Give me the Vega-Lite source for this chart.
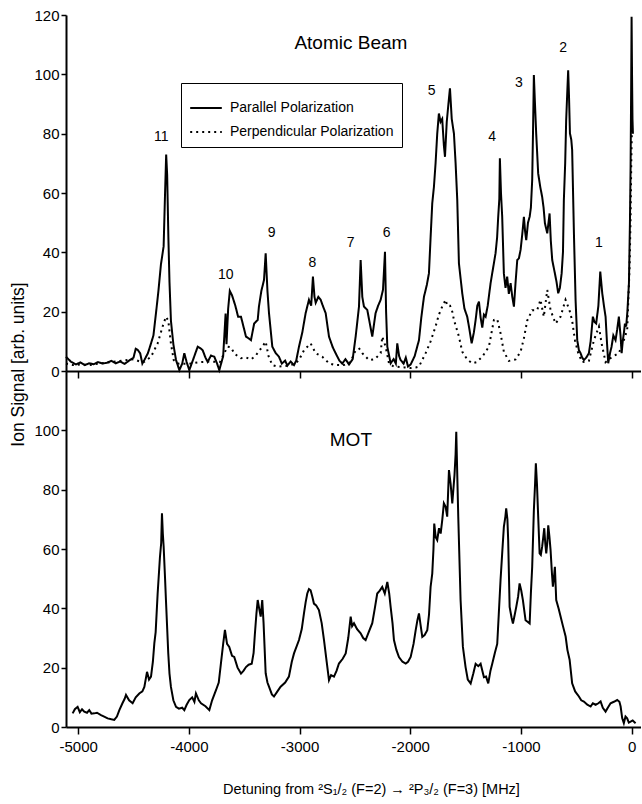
{
"$schema": "https://vega.github.io/schema/vega-lite/v6.json",
"background": "white",
"padding": {"left": 9, "top": 8, "right": 0, "bottom": 5},
"spacing": 0,
"bounds": "flush",
"config": {
  "view": {"stroke": null},
  "font": "Liberation Sans",
  "axis": {"grid": false, "domainColor": "black", "domainWidth": 2, "tickColor": "black", "tickWidth": 1.5, "labelColor": "black", "labelFont": "Liberation Sans", "labelFontSize": 15, "titleFont": "Liberation Sans", "titleFontSize": 16, "titleFontWeight": "normal", "titleColor": "black"}
},
"datasets": {
"beam": [
{"x":-5110,"y":4.8,"pol":"Parallel Polarization"},{"x":-5065,"y":3.1,"pol":"Parallel Polarization"},{"x":-5020,"y":2.2,"pol":"Parallel Polarization"},{"x":-4980,"y":2.9,"pol":"Parallel Polarization"},{"x":-4940,"y":2.0,"pol":"Parallel Polarization"},{"x":-4900,"y":2.6,"pol":"Parallel Polarization"},{"x":-4860,"y":2.3,"pol":"Parallel Polarization"},{"x":-4820,"y":3.0,"pol":"Parallel Polarization"},{"x":-4780,"y":2.5,"pol":"Parallel Polarization"},{"x":-4740,"y":2.8,"pol":"Parallel Polarization"},{"x":-4700,"y":3.4,"pol":"Parallel Polarization"},{"x":-4660,"y":2.6,"pol":"Parallel Polarization"},{"x":-4620,"y":3.2,"pol":"Parallel Polarization"},{"x":-4580,"y":2.4,"pol":"Parallel Polarization"},{"x":-4540,"y":3.5,"pol":"Parallel Polarization"},{"x":-4500,"y":4.5,"pol":"Parallel Polarization"},{"x":-4480,"y":7.5,"pol":"Parallel Polarization"},{"x":-4462,"y":7.1,"pol":"Parallel Polarization"},{"x":-4440,"y":6.0,"pol":"Parallel Polarization"},{"x":-4420,"y":2.5,"pol":"Parallel Polarization"},{"x":-4402,"y":3.7,"pol":"Parallel Polarization"},{"x":-4370,"y":6.0,"pol":"Parallel Polarization"},{"x":-4342,"y":9.3,"pol":"Parallel Polarization"},{"x":-4320,"y":12.0,"pol":"Parallel Polarization"},{"x":-4297,"y":19.5,"pol":"Parallel Polarization"},{"x":-4275,"y":27,"pol":"Parallel Polarization"},{"x":-4252,"y":36,"pol":"Parallel Polarization"},{"x":-4228,"y":42,"pol":"Parallel Polarization"},{"x":-4215,"y":60,"pol":"Parallel Polarization"},{"x":-4205,"y":73,"pol":"Parallel Polarization"},{"x":-4196,"y":66,"pol":"Parallel Polarization"},{"x":-4185,"y":45,"pol":"Parallel Polarization"},{"x":-4175,"y":30,"pol":"Parallel Polarization"},{"x":-4162,"y":17,"pol":"Parallel Polarization"},{"x":-4140,"y":9,"pol":"Parallel Polarization"},{"x":-4116,"y":3.7,"pol":"Parallel Polarization"},{"x":-4086,"y":0.3,"pol":"Parallel Polarization"},{"x":-4060,"y":2.5,"pol":"Parallel Polarization"},{"x":-4041,"y":6,"pol":"Parallel Polarization"},{"x":-4020,"y":3,"pol":"Parallel Polarization"},{"x":-3996,"y":0.3,"pol":"Parallel Polarization"},{"x":-3960,"y":4,"pol":"Parallel Polarization"},{"x":-3920,"y":8.2,"pol":"Parallel Polarization"},{"x":-3890,"y":7.5,"pol":"Parallel Polarization"},{"x":-3875,"y":7,"pol":"Parallel Polarization"},{"x":-3850,"y":4.5,"pol":"Parallel Polarization"},{"x":-3830,"y":3.1,"pol":"Parallel Polarization"},{"x":-3800,"y":5.2,"pol":"Parallel Polarization"},{"x":-3770,"y":4.8,"pol":"Parallel Polarization"},{"x":-3745,"y":2.5,"pol":"Parallel Polarization"},{"x":-3725,"y":0.3,"pol":"Parallel Polarization"},{"x":-3690,"y":5,"pol":"Parallel Polarization"},{"x":-3668,"y":19.4,"pol":"Parallel Polarization"},{"x":-3660,"y":9,"pol":"Parallel Polarization"},{"x":-3645,"y":21,"pol":"Parallel Polarization"},{"x":-3630,"y":27,"pol":"Parallel Polarization"},{"x":-3610,"y":25.5,"pol":"Parallel Polarization"},{"x":-3580,"y":22,"pol":"Parallel Polarization"},{"x":-3555,"y":18.3,"pol":"Parallel Polarization"},{"x":-3529,"y":18.3,"pol":"Parallel Polarization"},{"x":-3500,"y":14,"pol":"Parallel Polarization"},{"x":-3484,"y":11.6,"pol":"Parallel Polarization"},{"x":-3460,"y":11,"pol":"Parallel Polarization"},{"x":-3439,"y":10.4,"pol":"Parallel Polarization"},{"x":-3410,"y":16,"pol":"Parallel Polarization"},{"x":-3378,"y":17.2,"pol":"Parallel Polarization"},{"x":-3367,"y":21.7,"pol":"Parallel Polarization"},{"x":-3345,"y":27,"pol":"Parallel Polarization"},{"x":-3321,"y":30.7,"pol":"Parallel Polarization"},{"x":-3306,"y":39.7,"pol":"Parallel Polarization"},{"x":-3290,"y":27,"pol":"Parallel Polarization"},{"x":-3276,"y":19.5,"pol":"Parallel Polarization"},{"x":-3246,"y":8.2,"pol":"Parallel Polarization"},{"x":-3215,"y":6,"pol":"Parallel Polarization"},{"x":-3186,"y":4.8,"pol":"Parallel Polarization"},{"x":-3160,"y":2.5,"pol":"Parallel Polarization"},{"x":-3130,"y":3.5,"pol":"Parallel Polarization"},{"x":-3110,"y":1.8,"pol":"Parallel Polarization"},{"x":-3080,"y":3.2,"pol":"Parallel Polarization"},{"x":-3050,"y":2.0,"pol":"Parallel Polarization"},{"x":-3030,"y":3.5,"pol":"Parallel Polarization"},{"x":-3005,"y":8.2,"pol":"Parallel Polarization"},{"x":-2975,"y":13,"pol":"Parallel Polarization"},{"x":-2945,"y":19.5,"pol":"Parallel Polarization"},{"x":-2915,"y":24,"pol":"Parallel Polarization"},{"x":-2895,"y":22,"pol":"Parallel Polarization"},{"x":-2879,"y":31.8,"pol":"Parallel Polarization"},{"x":-2865,"y":25,"pol":"Parallel Polarization"},{"x":-2854,"y":23,"pol":"Parallel Polarization"},{"x":-2830,"y":25,"pol":"Parallel Polarization"},{"x":-2809,"y":24,"pol":"Parallel Polarization"},{"x":-2790,"y":22,"pol":"Parallel Polarization"},{"x":-2764,"y":19.5,"pol":"Parallel Polarization"},{"x":-2734,"y":11.6,"pol":"Parallel Polarization"},{"x":-2700,"y":8,"pol":"Parallel Polarization"},{"x":-2674,"y":6,"pol":"Parallel Polarization"},{"x":-2640,"y":3.5,"pol":"Parallel Polarization"},{"x":-2614,"y":2.5,"pol":"Parallel Polarization"},{"x":-2585,"y":4,"pol":"Parallel Polarization"},{"x":-2553,"y":2.2,"pol":"Parallel Polarization"},{"x":-2520,"y":4,"pol":"Parallel Polarization"},{"x":-2493,"y":11.6,"pol":"Parallel Polarization"},{"x":-2463,"y":21.7,"pol":"Parallel Polarization"},{"x":-2448,"y":37.4,"pol":"Parallel Polarization"},{"x":-2433,"y":25,"pol":"Parallel Polarization"},{"x":-2418,"y":21.7,"pol":"Parallel Polarization"},{"x":-2388,"y":20.6,"pol":"Parallel Polarization"},{"x":-2360,"y":15,"pol":"Parallel Polarization"},{"x":-2343,"y":11.6,"pol":"Parallel Polarization"},{"x":-2313,"y":19.5,"pol":"Parallel Polarization"},{"x":-2290,"y":22,"pol":"Parallel Polarization"},{"x":-2267,"y":24,"pol":"Parallel Polarization"},{"x":-2246,"y":27.4,"pol":"Parallel Polarization"},{"x":-2228,"y":40.2,"pol":"Parallel Polarization"},{"x":-2218,"y":20,"pol":"Parallel Polarization"},{"x":-2207,"y":8.2,"pol":"Parallel Polarization"},{"x":-2177,"y":2.6,"pol":"Parallel Polarization"},{"x":-2150,"y":4,"pol":"Parallel Polarization"},{"x":-2130,"y":2.5,"pol":"Parallel Polarization"},{"x":-2117,"y":9.3,"pol":"Parallel Polarization"},{"x":-2100,"y":5,"pol":"Parallel Polarization"},{"x":-2087,"y":3.7,"pol":"Parallel Polarization"},{"x":-2060,"y":2.5,"pol":"Parallel Polarization"},{"x":-2040,"y":4.5,"pol":"Parallel Polarization"},{"x":-2020,"y":1.5,"pol":"Parallel Polarization"},{"x":-1996,"y":2.2,"pol":"Parallel Polarization"},{"x":-1960,"y":5,"pol":"Parallel Polarization"},{"x":-1921,"y":10.4,"pol":"Parallel Polarization"},{"x":-1900,"y":18,"pol":"Parallel Polarization"},{"x":-1876,"y":25,"pol":"Parallel Polarization"},{"x":-1850,"y":29,"pol":"Parallel Polarization"},{"x":-1831,"y":32.9,"pol":"Parallel Polarization"},{"x":-1816,"y":45,"pol":"Parallel Polarization"},{"x":-1801,"y":56.5,"pol":"Parallel Polarization"},{"x":-1786,"y":62,"pol":"Parallel Polarization"},{"x":-1771,"y":70,"pol":"Parallel Polarization"},{"x":-1756,"y":80,"pol":"Parallel Polarization"},{"x":-1741,"y":86.8,"pol":"Parallel Polarization"},{"x":-1726,"y":84,"pol":"Parallel Polarization"},{"x":-1711,"y":85,"pol":"Parallel Polarization"},{"x":-1696,"y":76,"pol":"Parallel Polarization"},{"x":-1686,"y":72.2,"pol":"Parallel Polarization"},{"x":-1670,"y":84,"pol":"Parallel Polarization"},{"x":-1655,"y":90,"pol":"Parallel Polarization"},{"x":-1641,"y":95.3,"pol":"Parallel Polarization"},{"x":-1625,"y":85,"pol":"Parallel Polarization"},{"x":-1605,"y":80,"pol":"Parallel Polarization"},{"x":-1590,"y":70,"pol":"Parallel Polarization"},{"x":-1575,"y":57.6,"pol":"Parallel Polarization"},{"x":-1560,"y":36.3,"pol":"Parallel Polarization"},{"x":-1530,"y":26.2,"pol":"Parallel Polarization"},{"x":-1510,"y":21,"pol":"Parallel Polarization"},{"x":-1485,"y":18.3,"pol":"Parallel Polarization"},{"x":-1465,"y":14,"pol":"Parallel Polarization"},{"x":-1445,"y":9.3,"pol":"Parallel Polarization"},{"x":-1425,"y":13,"pol":"Parallel Polarization"},{"x":-1409,"y":17.2,"pol":"Parallel Polarization"},{"x":-1394,"y":22,"pol":"Parallel Polarization"},{"x":-1379,"y":23.4,"pol":"Parallel Polarization"},{"x":-1364,"y":18,"pol":"Parallel Polarization"},{"x":-1349,"y":14.6,"pol":"Parallel Polarization"},{"x":-1334,"y":19,"pol":"Parallel Polarization"},{"x":-1319,"y":18.3,"pol":"Parallel Polarization"},{"x":-1300,"y":22,"pol":"Parallel Polarization"},{"x":-1274,"y":29.6,"pol":"Parallel Polarization"},{"x":-1250,"y":35,"pol":"Parallel Polarization"},{"x":-1229,"y":39.7,"pol":"Parallel Polarization"},{"x":-1215,"y":45,"pol":"Parallel Polarization"},{"x":-1205,"y":52,"pol":"Parallel Polarization"},{"x":-1195,"y":58,"pol":"Parallel Polarization"},{"x":-1190,"y":71.7,"pol":"Parallel Polarization"},{"x":-1180,"y":60,"pol":"Parallel Polarization"},{"x":-1169,"y":52,"pol":"Parallel Polarization"},{"x":-1154,"y":32.9,"pol":"Parallel Polarization"},{"x":-1139,"y":28,"pol":"Parallel Polarization"},{"x":-1124,"y":31.8,"pol":"Parallel Polarization"},{"x":-1109,"y":26,"pol":"Parallel Polarization"},{"x":-1093,"y":29.6,"pol":"Parallel Polarization"},{"x":-1078,"y":25,"pol":"Parallel Polarization"},{"x":-1063,"y":21.7,"pol":"Parallel Polarization"},{"x":-1048,"y":30,"pol":"Parallel Polarization"},{"x":-1033,"y":37.4,"pol":"Parallel Polarization"},{"x":-1018,"y":38,"pol":"Parallel Polarization"},{"x":-1003,"y":40.8,"pol":"Parallel Polarization"},{"x":-988,"y":46,"pol":"Parallel Polarization"},{"x":-973,"y":52,"pol":"Parallel Polarization"},{"x":-962,"y":47,"pol":"Parallel Polarization"},{"x":-952,"y":44.1,"pol":"Parallel Polarization"},{"x":-936,"y":50,"pol":"Parallel Polarization"},{"x":-921,"y":52,"pol":"Parallel Polarization"},{"x":-910,"y":55,"pol":"Parallel Polarization"},{"x":-898,"y":64.4,"pol":"Parallel Polarization"},{"x":-890,"y":82,"pol":"Parallel Polarization"},{"x":-883,"y":99.8,"pol":"Parallel Polarization"},{"x":-875,"y":92,"pol":"Parallel Polarization"},{"x":-862,"y":80.1,"pol":"Parallel Polarization"},{"x":-844,"y":66.6,"pol":"Parallel Polarization"},{"x":-825,"y":62,"pol":"Parallel Polarization"},{"x":-808,"y":58.7,"pol":"Parallel Polarization"},{"x":-795,"y":55,"pol":"Parallel Polarization"},{"x":-783,"y":49.8,"pol":"Parallel Polarization"},{"x":-762,"y":46.4,"pol":"Parallel Polarization"},{"x":-741,"y":53.1,"pol":"Parallel Polarization"},{"x":-730,"y":44,"pol":"Parallel Polarization"},{"x":-717,"y":37.4,"pol":"Parallel Polarization"},{"x":-693,"y":32.9,"pol":"Parallel Polarization"},{"x":-678,"y":30,"pol":"Parallel Polarization"},{"x":-663,"y":26.2,"pol":"Parallel Polarization"},{"x":-648,"y":28,"pol":"Parallel Polarization"},{"x":-632,"y":32.9,"pol":"Parallel Polarization"},{"x":-620,"y":40,"pol":"Parallel Polarization"},{"x":-612,"y":57.6,"pol":"Parallel Polarization"},{"x":-600,"y":70,"pol":"Parallel Polarization"},{"x":-591,"y":84.6,"pol":"Parallel Polarization"},{"x":-580,"y":95,"pol":"Parallel Polarization"},{"x":-573,"y":101.4,"pol":"Parallel Polarization"},{"x":-565,"y":92,"pol":"Parallel Polarization"},{"x":-557,"y":80.1,"pol":"Parallel Polarization"},{"x":-545,"y":78,"pol":"Parallel Polarization"},{"x":-537,"y":74.5,"pol":"Parallel Polarization"},{"x":-521,"y":46.4,"pol":"Parallel Polarization"},{"x":-506,"y":23.9,"pol":"Parallel Polarization"},{"x":-491,"y":10.4,"pol":"Parallel Polarization"},{"x":-476,"y":7,"pol":"Parallel Polarization"},{"x":-461,"y":6,"pol":"Parallel Polarization"},{"x":-446,"y":4.5,"pol":"Parallel Polarization"},{"x":-431,"y":3.7,"pol":"Parallel Polarization"},{"x":-410,"y":4.5,"pol":"Parallel Polarization"},{"x":-386,"y":6,"pol":"Parallel Polarization"},{"x":-370,"y":10,"pol":"Parallel Polarization"},{"x":-350,"y":18.3,"pol":"Parallel Polarization"},{"x":-335,"y":16.5,"pol":"Parallel Polarization"},{"x":-320,"y":16,"pol":"Parallel Polarization"},{"x":-300,"y":22,"pol":"Parallel Polarization"},{"x":-283,"y":33.5,"pol":"Parallel Polarization"},{"x":-265,"y":26.2,"pol":"Parallel Polarization"},{"x":-250,"y":22,"pol":"Parallel Polarization"},{"x":-235,"y":18.3,"pol":"Parallel Polarization"},{"x":-223,"y":10,"pol":"Parallel Polarization"},{"x":-211,"y":2.6,"pol":"Parallel Polarization"},{"x":-195,"y":6,"pol":"Parallel Polarization"},{"x":-181,"y":8.2,"pol":"Parallel Polarization"},{"x":-165,"y":12,"pol":"Parallel Polarization"},{"x":-145,"y":10.4,"pol":"Parallel Polarization"},{"x":-130,"y":14,"pol":"Parallel Polarization"},{"x":-115,"y":18.3,"pol":"Parallel Polarization"},{"x":-100,"y":12,"pol":"Parallel Polarization"},{"x":-90,"y":6,"pol":"Parallel Polarization"},{"x":-80,"y":10,"pol":"Parallel Polarization"},{"x":-70,"y":12.7,"pol":"Parallel Polarization"},{"x":-60,"y":16,"pol":"Parallel Polarization"},{"x":-49,"y":15,"pol":"Parallel Polarization"},{"x":-38,"y":20,"pol":"Parallel Polarization"},{"x":-24,"y":29.6,"pol":"Parallel Polarization"},{"x":-15,"y":50,"pol":"Parallel Polarization"},{"x":-9,"y":68.9,"pol":"Parallel Polarization"},{"x":-4,"y":95,"pol":"Parallel Polarization"},{"x":0,"y":119.4,"pol":"Parallel Polarization"},{"x":4,"y":100,"pol":"Parallel Polarization"},{"x":8,"y":85,"pol":"Parallel Polarization"},{"x":12,"y":80,"pol":"Parallel Polarization"},
{"x":-5110,"y":2.5,"pol":"Perpendicular Polarization"},{"x":-5050,"y":2.0,"pol":"Perpendicular Polarization"},{"x":-4980,"y":2.2,"pol":"Perpendicular Polarization"},{"x":-4900,"y":2.0,"pol":"Perpendicular Polarization"},{"x":-4820,"y":2.5,"pol":"Perpendicular Polarization"},{"x":-4740,"y":2.8,"pol":"Perpendicular Polarization"},{"x":-4660,"y":3.2,"pol":"Perpendicular Polarization"},{"x":-4580,"y":3.6,"pol":"Perpendicular Polarization"},{"x":-4500,"y":4.0,"pol":"Perpendicular Polarization"},{"x":-4450,"y":3.3,"pol":"Perpendicular Polarization"},{"x":-4402,"y":3.1,"pol":"Perpendicular Polarization"},{"x":-4342,"y":4.8,"pol":"Perpendicular Polarization"},{"x":-4282,"y":9.3,"pol":"Perpendicular Polarization"},{"x":-4237,"y":15,"pol":"Perpendicular Polarization"},{"x":-4207,"y":18.3,"pol":"Perpendicular Polarization"},{"x":-4186,"y":17,"pol":"Perpendicular Polarization"},{"x":-4162,"y":9.3,"pol":"Perpendicular Polarization"},{"x":-4137,"y":3.7,"pol":"Perpendicular Polarization"},{"x":-4100,"y":2.5,"pol":"Perpendicular Polarization"},{"x":-4000,"y":2.4,"pol":"Perpendicular Polarization"},{"x":-3900,"y":3,"pol":"Perpendicular Polarization"},{"x":-3800,"y":3.2,"pol":"Perpendicular Polarization"},{"x":-3720,"y":3.0,"pol":"Perpendicular Polarization"},{"x":-3680,"y":6,"pol":"Perpendicular Polarization"},{"x":-3650,"y":8.2,"pol":"Perpendicular Polarization"},{"x":-3620,"y":8,"pol":"Perpendicular Polarization"},{"x":-3590,"y":6,"pol":"Perpendicular Polarization"},{"x":-3560,"y":5,"pol":"Perpendicular Polarization"},{"x":-3530,"y":4.3,"pol":"Perpendicular Polarization"},{"x":-3480,"y":4.5,"pol":"Perpendicular Polarization"},{"x":-3440,"y":3.9,"pol":"Perpendicular Polarization"},{"x":-3400,"y":5,"pol":"Perpendicular Polarization"},{"x":-3336,"y":8.2,"pol":"Perpendicular Polarization"},{"x":-3306,"y":9.9,"pol":"Perpendicular Polarization"},{"x":-3280,"y":5,"pol":"Perpendicular Polarization"},{"x":-3246,"y":2.0,"pol":"Perpendicular Polarization"},{"x":-3200,"y":1.5,"pol":"Perpendicular Polarization"},{"x":-3100,"y":1.8,"pol":"Perpendicular Polarization"},{"x":-3040,"y":2.5,"pol":"Perpendicular Polarization"},{"x":-3005,"y":3.7,"pol":"Perpendicular Polarization"},{"x":-2960,"y":7,"pol":"Perpendicular Polarization"},{"x":-2900,"y":9.3,"pol":"Perpendicular Polarization"},{"x":-2854,"y":6,"pol":"Perpendicular Polarization"},{"x":-2794,"y":4.8,"pol":"Perpendicular Polarization"},{"x":-2734,"y":2.6,"pol":"Perpendicular Polarization"},{"x":-2680,"y":2,"pol":"Perpendicular Polarization"},{"x":-2600,"y":2,"pol":"Perpendicular Polarization"},{"x":-2540,"y":3,"pol":"Perpendicular Polarization"},{"x":-2493,"y":7,"pol":"Perpendicular Polarization"},{"x":-2460,"y":7.5,"pol":"Perpendicular Polarization"},{"x":-2433,"y":6,"pol":"Perpendicular Polarization"},{"x":-2373,"y":3.7,"pol":"Perpendicular Polarization"},{"x":-2320,"y":4,"pol":"Perpendicular Polarization"},{"x":-2267,"y":6,"pol":"Perpendicular Polarization"},{"x":-2253,"y":11.6,"pol":"Perpendicular Polarization"},{"x":-2222,"y":8.2,"pol":"Perpendicular Polarization"},{"x":-2192,"y":2.6,"pol":"Perpendicular Polarization"},{"x":-2150,"y":1.5,"pol":"Perpendicular Polarization"},{"x":-2050,"y":1.2,"pol":"Perpendicular Polarization"},{"x":-1996,"y":1.0,"pol":"Perpendicular Polarization"},{"x":-1950,"y":1.2,"pol":"Perpendicular Polarization"},{"x":-1921,"y":1.5,"pol":"Perpendicular Polarization"},{"x":-1861,"y":6,"pol":"Perpendicular Polarization"},{"x":-1816,"y":10,"pol":"Perpendicular Polarization"},{"x":-1771,"y":15,"pol":"Perpendicular Polarization"},{"x":-1741,"y":19,"pol":"Perpendicular Polarization"},{"x":-1711,"y":21.7,"pol":"Perpendicular Polarization"},{"x":-1680,"y":24,"pol":"Perpendicular Polarization"},{"x":-1666,"y":22,"pol":"Perpendicular Polarization"},{"x":-1640,"y":22,"pol":"Perpendicular Polarization"},{"x":-1620,"y":20,"pol":"Perpendicular Polarization"},{"x":-1605,"y":17.2,"pol":"Perpendicular Polarization"},{"x":-1560,"y":11.6,"pol":"Perpendicular Polarization"},{"x":-1530,"y":6.5,"pol":"Perpendicular Polarization"},{"x":-1485,"y":3.9,"pol":"Perpendicular Polarization"},{"x":-1440,"y":2.6,"pol":"Perpendicular Polarization"},{"x":-1400,"y":3,"pol":"Perpendicular Polarization"},{"x":-1349,"y":4.8,"pol":"Perpendicular Polarization"},{"x":-1289,"y":8.2,"pol":"Perpendicular Polarization"},{"x":-1244,"y":17.2,"pol":"Perpendicular Polarization"},{"x":-1214,"y":17.5,"pol":"Perpendicular Polarization"},{"x":-1184,"y":12.7,"pol":"Perpendicular Polarization"},{"x":-1154,"y":6.5,"pol":"Perpendicular Polarization"},{"x":-1109,"y":3.4,"pol":"Perpendicular Polarization"},{"x":-1048,"y":3.9,"pol":"Perpendicular Polarization"},{"x":-1003,"y":6.5,"pol":"Perpendicular Polarization"},{"x":-973,"y":11,"pol":"Perpendicular Polarization"},{"x":-943,"y":17,"pol":"Perpendicular Polarization"},{"x":-898,"y":20.5,"pol":"Perpendicular Polarization"},{"x":-853,"y":20.5,"pol":"Perpendicular Polarization"},{"x":-823,"y":24,"pol":"Perpendicular Polarization"},{"x":-793,"y":18.3,"pol":"Perpendicular Polarization"},{"x":-762,"y":27.3,"pol":"Perpendicular Polarization"},{"x":-732,"y":20.5,"pol":"Perpendicular Polarization"},{"x":-687,"y":16,"pol":"Perpendicular Polarization"},{"x":-642,"y":18.3,"pol":"Perpendicular Polarization"},{"x":-597,"y":24,"pol":"Perpendicular Polarization"},{"x":-561,"y":20.5,"pol":"Perpendicular Polarization"},{"x":-537,"y":17,"pol":"Perpendicular Polarization"},{"x":-512,"y":10.4,"pol":"Perpendicular Polarization"},{"x":-482,"y":6,"pol":"Perpendicular Polarization"},{"x":-446,"y":3,"pol":"Perpendicular Polarization"},{"x":-386,"y":3.4,"pol":"Perpendicular Polarization"},{"x":-340,"y":10.4,"pol":"Perpendicular Polarization"},{"x":-295,"y":15,"pol":"Perpendicular Polarization"},{"x":-271,"y":9.3,"pol":"Perpendicular Polarization"},{"x":-235,"y":3,"pol":"Perpendicular Polarization"},{"x":-175,"y":4.8,"pol":"Perpendicular Polarization"},{"x":-115,"y":6,"pol":"Perpendicular Polarization"},{"x":-70,"y":10.4,"pol":"Perpendicular Polarization"},{"x":-40,"y":13.8,"pol":"Perpendicular Polarization"},{"x":-18,"y":35,"pol":"Perpendicular Polarization"},{"x":-9,"y":52,"pol":"Perpendicular Polarization"},{"x":-3,"y":70,"pol":"Perpendicular Polarization"},{"x":2,"y":80,"pol":"Perpendicular Polarization"}
],
"mot": [
{"x":-5050,"y":4.6},{"x":-5030,"y":6.0},{"x":-5005,"y":6.8},{"x":-4985,"y":5.0},{"x":-4965,"y":6.0},{"x":-4945,"y":5.2},{"x":-4920,"y":4.8},{"x":-4900,"y":5.7},{"x":-4880,"y":4.5},{"x":-4855,"y":4.6},{"x":-4830,"y":4.8},{"x":-4794,"y":4.0},{"x":-4765,"y":3.5},{"x":-4734,"y":2.9},{"x":-4700,"y":2.6},{"x":-4674,"y":2.4},{"x":-4650,"y":3.5},{"x":-4628,"y":5.7},{"x":-4600,"y":8},{"x":-4580,"y":9.5},{"x":-4568,"y":10.8},{"x":-4540,"y":9},{"x":-4508,"y":8},{"x":-4480,"y":10},{"x":-4448,"y":11.3},{"x":-4420,"y":12},{"x":-4402,"y":13.5},{"x":-4378,"y":18.6},{"x":-4360,"y":16},{"x":-4342,"y":17},{"x":-4325,"y":22},{"x":-4312,"y":28.2},{"x":-4300,"y":32},{"x":-4282,"y":45},{"x":-4261,"y":57.4},{"x":-4250,"y":62},{"x":-4243,"y":72},{"x":-4235,"y":65},{"x":-4228,"y":61},{"x":-4215,"y":50},{"x":-4207,"y":42.8},{"x":-4186,"y":24.8},{"x":-4175,"y":18},{"x":-4162,"y":13.5},{"x":-4140,"y":9},{"x":-4116,"y":6.8},{"x":-4090,"y":6.2},{"x":-4060,"y":6.5},{"x":-4041,"y":5.7},{"x":-4020,"y":7.5},{"x":-3996,"y":9.1},{"x":-3970,"y":10},{"x":-3950,"y":8.5},{"x":-3936,"y":11.3},{"x":-3910,"y":9},{"x":-3890,"y":8},{"x":-3850,"y":7},{"x":-3815,"y":5.7},{"x":-3790,"y":9},{"x":-3755,"y":12.4},{"x":-3730,"y":15},{"x":-3710,"y":21.5},{"x":-3690,"y":28},{"x":-3674,"y":32.7},{"x":-3655,"y":28},{"x":-3635,"y":27},{"x":-3610,"y":24},{"x":-3590,"y":23.6},{"x":-3560,"y":20},{"x":-3529,"y":18},{"x":-3505,"y":19},{"x":-3484,"y":20.2},{"x":-3460,"y":21},{"x":-3432,"y":21.3},{"x":-3415,"y":25},{"x":-3403,"y":31.6},{"x":-3390,"y":38},{"x":-3378,"y":42.8},{"x":-3365,"y":40},{"x":-3351,"y":37.2},{"x":-3337,"y":42.8},{"x":-3325,"y":35},{"x":-3306,"y":18.1},{"x":-3290,"y":15},{"x":-3276,"y":13.6},{"x":-3250,"y":11},{"x":-3231,"y":10.3},{"x":-3200,"y":12},{"x":-3171,"y":13.6},{"x":-3130,"y":15},{"x":-3096,"y":17},{"x":-3070,"y":22},{"x":-3050,"y":24.8},{"x":-3005,"y":29.3},{"x":-2980,"y":33},{"x":-2960,"y":38.3},{"x":-2945,"y":42},{"x":-2930,"y":45},{"x":-2915,"y":46.5},{"x":-2900,"y":46.1},{"x":-2885,"y":44},{"x":-2870,"y":41.6},{"x":-2850,"y":41},{"x":-2825,"y":39.4},{"x":-2800,"y":35},{"x":-2779,"y":29.3},{"x":-2755,"y":22},{"x":-2734,"y":15.8},{"x":-2715,"y":17.5},{"x":-2689,"y":17},{"x":-2665,"y":19},{"x":-2644,"y":21.4},{"x":-2610,"y":23},{"x":-2583,"y":24.8},{"x":-2560,"y":30},{"x":-2538,"y":37.2},{"x":-2525,"y":34},{"x":-2508,"y":35},{"x":-2480,"y":33},{"x":-2448,"y":31.6},{"x":-2425,"y":30},{"x":-2403,"y":29.3},{"x":-2375,"y":32},{"x":-2343,"y":35},{"x":-2320,"y":40},{"x":-2298,"y":45},{"x":-2275,"y":46},{"x":-2253,"y":47.2},{"x":-2230,"y":45},{"x":-2207,"y":48.9},{"x":-2190,"y":45},{"x":-2177,"y":40.5},{"x":-2160,"y":35},{"x":-2147,"y":29.3},{"x":-2125,"y":26},{"x":-2102,"y":23.6},{"x":-2070,"y":22},{"x":-2041,"y":21.4},{"x":-2020,"y":22},{"x":-1996,"y":23.6},{"x":-1970,"y":28},{"x":-1951,"y":32.6},{"x":-1935,"y":36},{"x":-1921,"y":38.3},{"x":-1905,"y":34},{"x":-1891,"y":30.4},{"x":-1870,"y":31},{"x":-1846,"y":32.6},{"x":-1830,"y":38},{"x":-1816,"y":47.2},{"x":-1801,"y":51.7},{"x":-1790,"y":60},{"x":-1783,"y":68.6},{"x":-1770,"y":64},{"x":-1756,"y":63},{"x":-1740,"y":67},{"x":-1725,"y":65.2},{"x":-1710,"y":70},{"x":-1696,"y":75.4},{"x":-1680,"y":74.2},{"x":-1666,"y":70.9},{"x":-1650,"y":86.6},{"x":-1635,"y":82},{"x":-1620,"y":75.4},{"x":-1600,"y":85},{"x":-1590,"y":92},{"x":-1584,"y":99.5},{"x":-1575,"y":85},{"x":-1566,"y":70.9},{"x":-1545,"y":42.8},{"x":-1524,"y":27},{"x":-1500,"y":20.2},{"x":-1480,"y":16},{"x":-1454,"y":14.7},{"x":-1430,"y":18},{"x":-1409,"y":21.3},{"x":-1385,"y":20.5},{"x":-1364,"y":21.3},{"x":-1334,"y":16.8},{"x":-1315,"y":17},{"x":-1295,"y":14.7},{"x":-1275,"y":19},{"x":-1259,"y":21.3},{"x":-1235,"y":25},{"x":-1214,"y":28},{"x":-1200,"y":38},{"x":-1184,"y":49.5},{"x":-1170,"y":58},{"x":-1154,"y":67.5},{"x":-1140,"y":71},{"x":-1133,"y":73.7},{"x":-1122,"y":70},{"x":-1115,"y":63},{"x":-1102,"y":40.5},{"x":-1085,"y":37},{"x":-1072,"y":34.9},{"x":-1055,"y":38},{"x":-1042,"y":40.5},{"x":-1025,"y":44},{"x":-1012,"y":48.4},{"x":-997,"y":46},{"x":-982,"y":42.8},{"x":-965,"y":38},{"x":-958,"y":36},{"x":-940,"y":35.5},{"x":-921,"y":34.9},{"x":-910,"y":45},{"x":-898,"y":54},{"x":-883,"y":73},{"x":-872,"y":82},{"x":-865,"y":88.9},{"x":-855,"y":82},{"x":-846,"y":73},{"x":-831,"y":58.5},{"x":-820,"y":58},{"x":-808,"y":60.8},{"x":-798,"y":64},{"x":-789,"y":67},{"x":-780,"y":62},{"x":-771,"y":58.5},{"x":-762,"y":62},{"x":-753,"y":68},{"x":-742,"y":64},{"x":-732,"y":59.6},{"x":-720,"y":52},{"x":-711,"y":47.3},{"x":-700,"y":51},{"x":-693,"y":54},{"x":-681,"y":42.8},{"x":-660,"y":40},{"x":-641,"y":37.2},{"x":-620,"y":34},{"x":-596,"y":30.5},{"x":-580,"y":26},{"x":-560,"y":22.7},{"x":-537,"y":14.7},{"x":-510,"y":12},{"x":-476,"y":10.3},{"x":-455,"y":9},{"x":-431,"y":8.6},{"x":-400,"y":7.5},{"x":-370,"y":6.9},{"x":-350,"y":8},{"x":-325,"y":7.5},{"x":-300,"y":8},{"x":-280,"y":8.6},{"x":-260,"y":6.5},{"x":-235,"y":5.2},{"x":-215,"y":6.5},{"x":-190,"y":8},{"x":-160,"y":8.5},{"x":-130,"y":9.1},{"x":-110,"y":8.5},{"x":-99,"y":6.9},{"x":-85,"y":3},{"x":-70,"y":1.3},{"x":-55,"y":3.5},{"x":-40,"y":2.9},{"x":-25,"y":1.5},{"x":-9,"y":1.8},{"x":10,"y":2.2},{"x":36,"y":1.3}
],
"peaks": [
{"t":"11","x":-4249,"y":79},{"t":"10","x":-3667,"y":32.4},{"t":"9","x":-3252,"y":46.4},{"t":"8","x":-2885,"y":36.3},{"t":"7","x":-2538,"y":43},{"t":"6","x":-2213,"y":46.4},{"t":"5","x":-1807,"y":94.4},{"t":"4","x":-1259,"y":79},{"t":"3","x":-1018,"y":97.2},{"t":"2","x":-618,"y":109},{"t":"1","x":-295,"y":43.2}
],
"titles1": [{"t":"Atomic Beam","x":-2536,"y":110.5}],
"titles2": [{"t":"MOT","x":-2536,"y":96.7}]
},
"vconcat": [
{
 "width": 575, "height": 356,
 "layer": [
  {
   "data": {"name": "beam"},
   "mark": {"type": "line", "color": "black", "strokeWidth": 2, "strokeCap": "butt", "strokeJoin": "miter"},
   "encoding": {
    "x": {"field": "x", "type": "quantitative", "scale": {"domain": [-5110, 85], "nice": false, "zero": false}, "axis": {"values": [-5000,-4000,-3000,-2000,-1000,0], "labels": false, "title": null, "tickSize": 7}},
    "y": {"field": "y", "type": "quantitative", "scale": {"domain": [0, 120], "nice": false}, "axis": {"values": [0,20,40,60,80,100,120], "tickSize": 5, "labelPadding": 2, "title": "Ion Signal [arb. units]", "titleFontSize": 17.5, "titleX": -48, "titleY": 349, "titleAlign": "center", "titleAngle": -90, "titleBaseline": "middle"}},
    "strokeDash": {"field": "pol", "type": "nominal", "scale": {"domain": ["Parallel Polarization", "Perpendicular Polarization"], "range": [[1, 0], [2, 4]]}, "legend": {"title": null, "orient": "none", "legendX": 115, "legendY": 68, "strokeColor": "black", "fillColor": "white", "padding": 8, "symbolType": "stroke", "symbolSize": 1000, "symbolStrokeWidth": 2, "symbolStrokeColor": "black", "labelFontSize": 14, "labelFont": "Liberation Sans", "labelColor": "black", "labelOffset": 7, "labelLimit": 400, "rowPadding": -5}}
   }
  },
  {
   "data": {"name": "peaks"},
   "mark": {"type": "text", "font": "Liberation Sans", "fontSize": 14, "color": "black", "baseline": "middle", "align": "center"},
   "encoding": {"x": {"field": "x", "type": "quantitative"}, "y": {"field": "y", "type": "quantitative"}, "text": {"field": "t"}}
  },
  {
   "data": {"name": "titles1"},
   "mark": {"type": "text", "font": "Liberation Sans", "fontSize": 19, "color": "black", "baseline": "middle", "align": "center"},
   "encoding": {"x": {"field": "x", "type": "quantitative"}, "y": {"field": "y", "type": "quantitative"}, "text": {"field": "t"}}
  }
 ]
},
{
 "width": 575, "height": 356,
 "layer": [
  {
   "data": {"name": "mot"},
   "mark": {"type": "line", "color": "black", "strokeWidth": 2, "strokeJoin": "miter"},
   "encoding": {
    "x": {"field": "x", "type": "quantitative", "scale": {"domain": [-5110, 85], "nice": false, "zero": false}, "axis": {"values": [-5000,-4000,-3000,-2000,-1000,0], "labelExpr": "'' + datum.value", "tickSize": 7, "labelPadding": 5, "title": "Detuning from ²S₁/₂ (F=2) → ²P₃/₂ (F=3) [MHz]", "titleFontSize": 14.5, "titleX": 305, "titleAlign": "center", "titlePadding": 28}},
    "y": {"field": "y", "type": "quantitative", "scale": {"domain": [0, 120], "nice": false}, "axis": {"values": [0,20,40,60,80,100], "tickSize": 5, "labelPadding": 2, "title": null}}
   }
  },
  {
   "data": {"name": "titles2"},
   "mark": {"type": "text", "font": "Liberation Sans", "fontSize": 19, "color": "black", "baseline": "middle", "align": "center"},
   "encoding": {"x": {"field": "x", "type": "quantitative"}, "y": {"field": "y", "type": "quantitative"}, "text": {"field": "t"}}
  }
 ]
}
]
}
